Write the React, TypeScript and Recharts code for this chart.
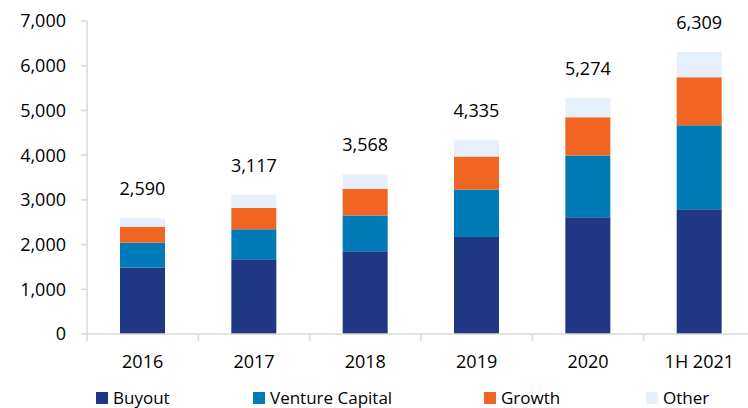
import { Bar, BarChart, LabelList, XAxis, YAxis } from 'recharts';

const categories = ['2016', '2017', '2018', '2019', '2020', '1H 2021'];
const buyout = [1490, 1670, 1850, 2170, 2610, 2790];
const ventureCapital = [550, 670, 800, 1060, 1380, 1880];
const growth = [360, 480, 600, 740, 860, 1070];
const other = [190, 297, 318, 365, 424, 569];
const totals = [2590, 3117, 3568, 4335, 5274, 6309];
const yTicks = [0, 1000, 2000, 3000, 4000, 5000, 6000, 7000];

const series = [
  { key: 'buyout', name: 'Buyout', color: '#203783', legendLeft: 96 },
  { key: 'venture', name: 'Venture Capital', color: '#007BB6', legendLeft: 253 },
  { key: 'growth', name: 'Growth', color: '#F16522', legendLeft: 484 },
  { key: 'other', name: 'Other', color: '#E5F0FC', legendLeft: 646 },
];

const data = categories.map((year, i) => ({
  year,
  buyout: buyout[i],
  venture: ventureCapital[i],
  growth: growth[i],
  other: other[i],
}));

const FONT = '"Open Sans", sans-serif';
const CHART_W = 760;
const CHART_H = 408;
const Y_AXIS_W = 87;
const MARGIN = { top: 21, right: 5, bottom: 0, left: 0 };
const BAND = (CHART_W - Y_AXIS_W - MARGIN.right) / categories.length;
const GRID = '#D9D9D9';

function XTick(props: any) {
  const { x, y, payload } = props;
  const left = x - BAND / 2;
  return (
    <g>
      <line x1={left} y1={y} x2={left} y2={y + 7} stroke={GRID} strokeWidth={1.5} />
      <text x={x} y={y + 34} textAnchor="middle" fontSize={18} fontFamily={FONT} fill="#000">
        {payload.value}
      </text>
    </g>
  );
}

function TotalLabel(props: any) {
  const { x, y, width, index } = props;
  return (
    <text x={x + width / 2} y={y - 23} textAnchor="middle" fontSize={18} fontFamily={FONT} fill="#000">
      {totals[index].toLocaleString('en-US')}
    </text>
  );
}

export default function App() {
  return (
    <div
      style={{
        position: 'fixed',
        top: 0,
        left: 0,
        width: 748,
        height: 408,
        overflow: 'hidden',
        background: '#fff',
        fontFamily: FONT,
      }}
    >
      <BarChart width={CHART_W} height={CHART_H} data={data} margin={MARGIN}>
        <XAxis
          dataKey="year"
          height={74}
          axisLine={{ stroke: GRID, strokeWidth: 1.5 }}
          tickLine={false}
          tickSize={0}
          tickMargin={0}
          tick={<XTick />}
          interval={0}
        />
        <YAxis
          width={Y_AXIS_W}
          domain={[0, 7000]}
          ticks={yTicks}
          interval={0}
          axisLine={{ stroke: GRID, strokeWidth: 1.5 }}
          tickLine={{ stroke: GRID, strokeWidth: 1.5 }}
          tickSize={6}
          tickMargin={15}
          tick={{ fontSize: 18, fill: '#000', fontFamily: FONT }}
          tickFormatter={(v: number) => v.toLocaleString('en-US')}
        />
        {series.map((s) => (
          <Bar
            key={s.key}
            dataKey={s.key}
            name={s.name}
            stackId="total"
            fill={s.color}
            barSize={45}
            isAnimationActive={false}
          >
            {s.key === 'other' && <LabelList dataKey="other" content={<TotalLabel />} />}
          </Bar>
        ))}
      </BarChart>
      {series.map((s) => (
        <div
          key={s.key}
          style={{
            position: 'absolute',
            left: s.legendLeft,
            top: 389,
            height: 18,
            display: 'flex',
            alignItems: 'center',
            fontSize: 17,
            lineHeight: '18px',
            color: '#000',
            whiteSpace: 'nowrap',
          }}
        >
          <span style={{ width: 12, height: 12, background: s.color, marginRight: 5 }} />
          {s.name}
        </div>
      ))}
    </div>
  );
}
